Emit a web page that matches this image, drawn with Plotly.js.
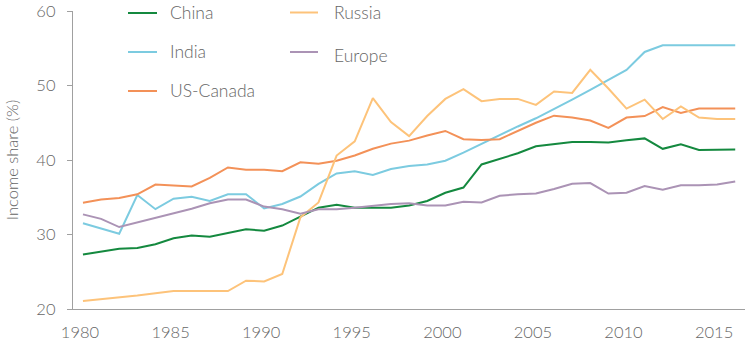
<!DOCTYPE html>
<html>
<head>
<meta charset="utf-8">
<script src="https://cdn.plot.ly/plotly-3.0.1.min.js"></script>
<style>html,body{margin:0;padding:0;background:#fff;}#chart{width:745px;height:344px;}</style>
</head>
<body>
<div id="chart"></div>
<script>
const years = [1980,1981,1982,1983,1984,1985,1986,1987,1988,1989,1990,1991,1992,1993,1994,1995,1996,1997,1998,1999,2000,2001,2002,2003,2004,2005,2006,2007,2008,2009,2010,2011,2012,2013,2014,2015,2016];
const china = [27.3,27.7,28.1,28.2,28.7,29.5,29.85,29.7,30.2,30.7,30.5,31.2,32.4,33.6,34.0,33.6,33.6,33.6,33.9,34.5,35.6,36.3,39.4,40.2,40.9,41.85,42.1,42.4,42.4,42.35,42.65,42.9,41.5,42.1,41.35,41.4,41.4];
const india = [31.5,30.8,30.1,35.3,33.4,34.8,35.05,34.5,35.4,35.4,33.5,34.1,35.1,36.8,38.2,38.5,38.0,38.8,39.2,39.4,39.9,41.0,42.2,43.3,44.5,45.6,46.8,48.1,49.4,50.8,52.1,54.5,55.4,55.4,55.4,55.4,55.4];
const usCanada = [34.25,34.7,34.9,35.4,36.7,36.6,36.45,37.6,39.0,38.7,38.7,38.5,39.7,39.5,39.9,40.6,41.5,42.2,42.6,43.3,43.9,42.8,42.7,42.8,43.9,45.0,45.95,45.7,45.3,44.3,45.7,45.9,47.1,46.3,46.9,46.9,46.9];
const russia = [21.07,21.3,21.6,21.8,22.1,22.4,22.4,22.4,22.4,23.8,23.7,24.7,32.3,34.3,40.6,42.5,48.3,45.1,43.2,45.9,48.2,49.5,47.9,48.2,48.2,47.4,49.2,49.0,52.1,49.6,46.9,48.1,45.5,47.2,45.7,45.5,45.5];
const europe = [32.7,32.1,31.0,31.6,32.2,32.9,33.45,34.2,34.7,34.7,33.75,33.4,32.8,33.4,33.4,33.6,33.9,34.1,34.2,33.9,33.9,34.4,34.3,35.2,35.4,35.5,36.1,36.8,36.9,35.5,35.6,36.5,36.0,36.6,36.6,36.7,37.1];
const seriesNames = ['China','India','US-Canada','Russia','Europe'];
const xTicks = [1980,1985,1990,1995,2000,2005,2010,2015];
const yTicks = [20,30,40,50,60];

const seriesColors = ['#14893f','#7ccbe0','#f39158','#fdc37a','#ab93b5'];
const seriesValues = [china, india, usCanada, russia, europe];

const traces = seriesNames.map((n,i) => ({
  type:'scatter', mode:'lines', x:years, y:seriesValues[i], name:n,
  line:{color:seriesColors[i], width:2}, showlegend:false, hoverinfo:'skip'
}));

// Custom two-column legend (pixel layout of the key)
const W = 672, H = 298, L = 73, T = 11;
const px = v => (v - L) / W;
const py = v => (T + H - v) / H;
const keyPos = [
  {x0:128, x1:157, ly:13, tx:168, ty:13},
  {x0:128, x1:157, ly:52, tx:168, ty:52},
  {x0:128, x1:157, ly:91, tx:168, ty:91},
  {x0:290, x1:318, ly:12.5, tx:332, ty:13},
  {x0:290, x1:318, ly:52, tx:332, ty:55}
];
const txt = '#666666';
const fontFam = 'Lato, "Open Sans", sans-serif';

const shapes = keyPos.map((k,i) => ({
  type:'line', xref:'paper', yref:'paper', x0:px(k.x0), x1:px(k.x1), y0:py(k.ly), y1:py(k.ly),
  line:{color:seriesColors[i], width:2}
}));
const annotations = keyPos.map((k,i) => ({
  xref:'paper', yref:'paper', x:px(k.tx), y:py(k.ty), xanchor:'left', yanchor:'middle',
  text:seriesNames[i], showarrow:false, font:{family:fontFam, size:17.5, color:txt, weight:300}
}));

const layout = {
  width:745, height:344,
  margin:{l:L, r:0, t:T, b:35},
  paper_bgcolor:'#fff', plot_bgcolor:'#fff',
  font:{family:fontFam, color:txt, size:16, weight:300},
  showlegend:false,
  shapes:shapes, annotations:annotations,
  xaxis:{range:[1979.45,2016.54], tickvals:xTicks, ticktext:xTicks.map(String),
    showgrid:false, zeroline:false, showline:true, linecolor:'#a0a0a0', linewidth:1.2,
    ticks:'', tickfont:{size:16.5, color:txt, weight:300}, ticklabelstandoff:8, ticklabelshift:-3, fixedrange:true},
  yaxis:{range:[20,60], tickvals:yTicks, showgrid:false, zeroline:false, showline:true,
    linecolor:'#a0a0a0', linewidth:1.2, ticks:'outside', ticklen:5, tickcolor:'#a0a0a0',
    tickfont:{size:16.5, color:txt, weight:300}, ticklabelstandoff:8,
    title:{text:'Income share (%)', font:{size:16.5, color:txt, weight:300}, standoff:13}, fixedrange:true}
};

Plotly.newPlot('chart', traces, layout, {displayModeBar:false, staticPlot:true});
</script>
</body>
</html>
